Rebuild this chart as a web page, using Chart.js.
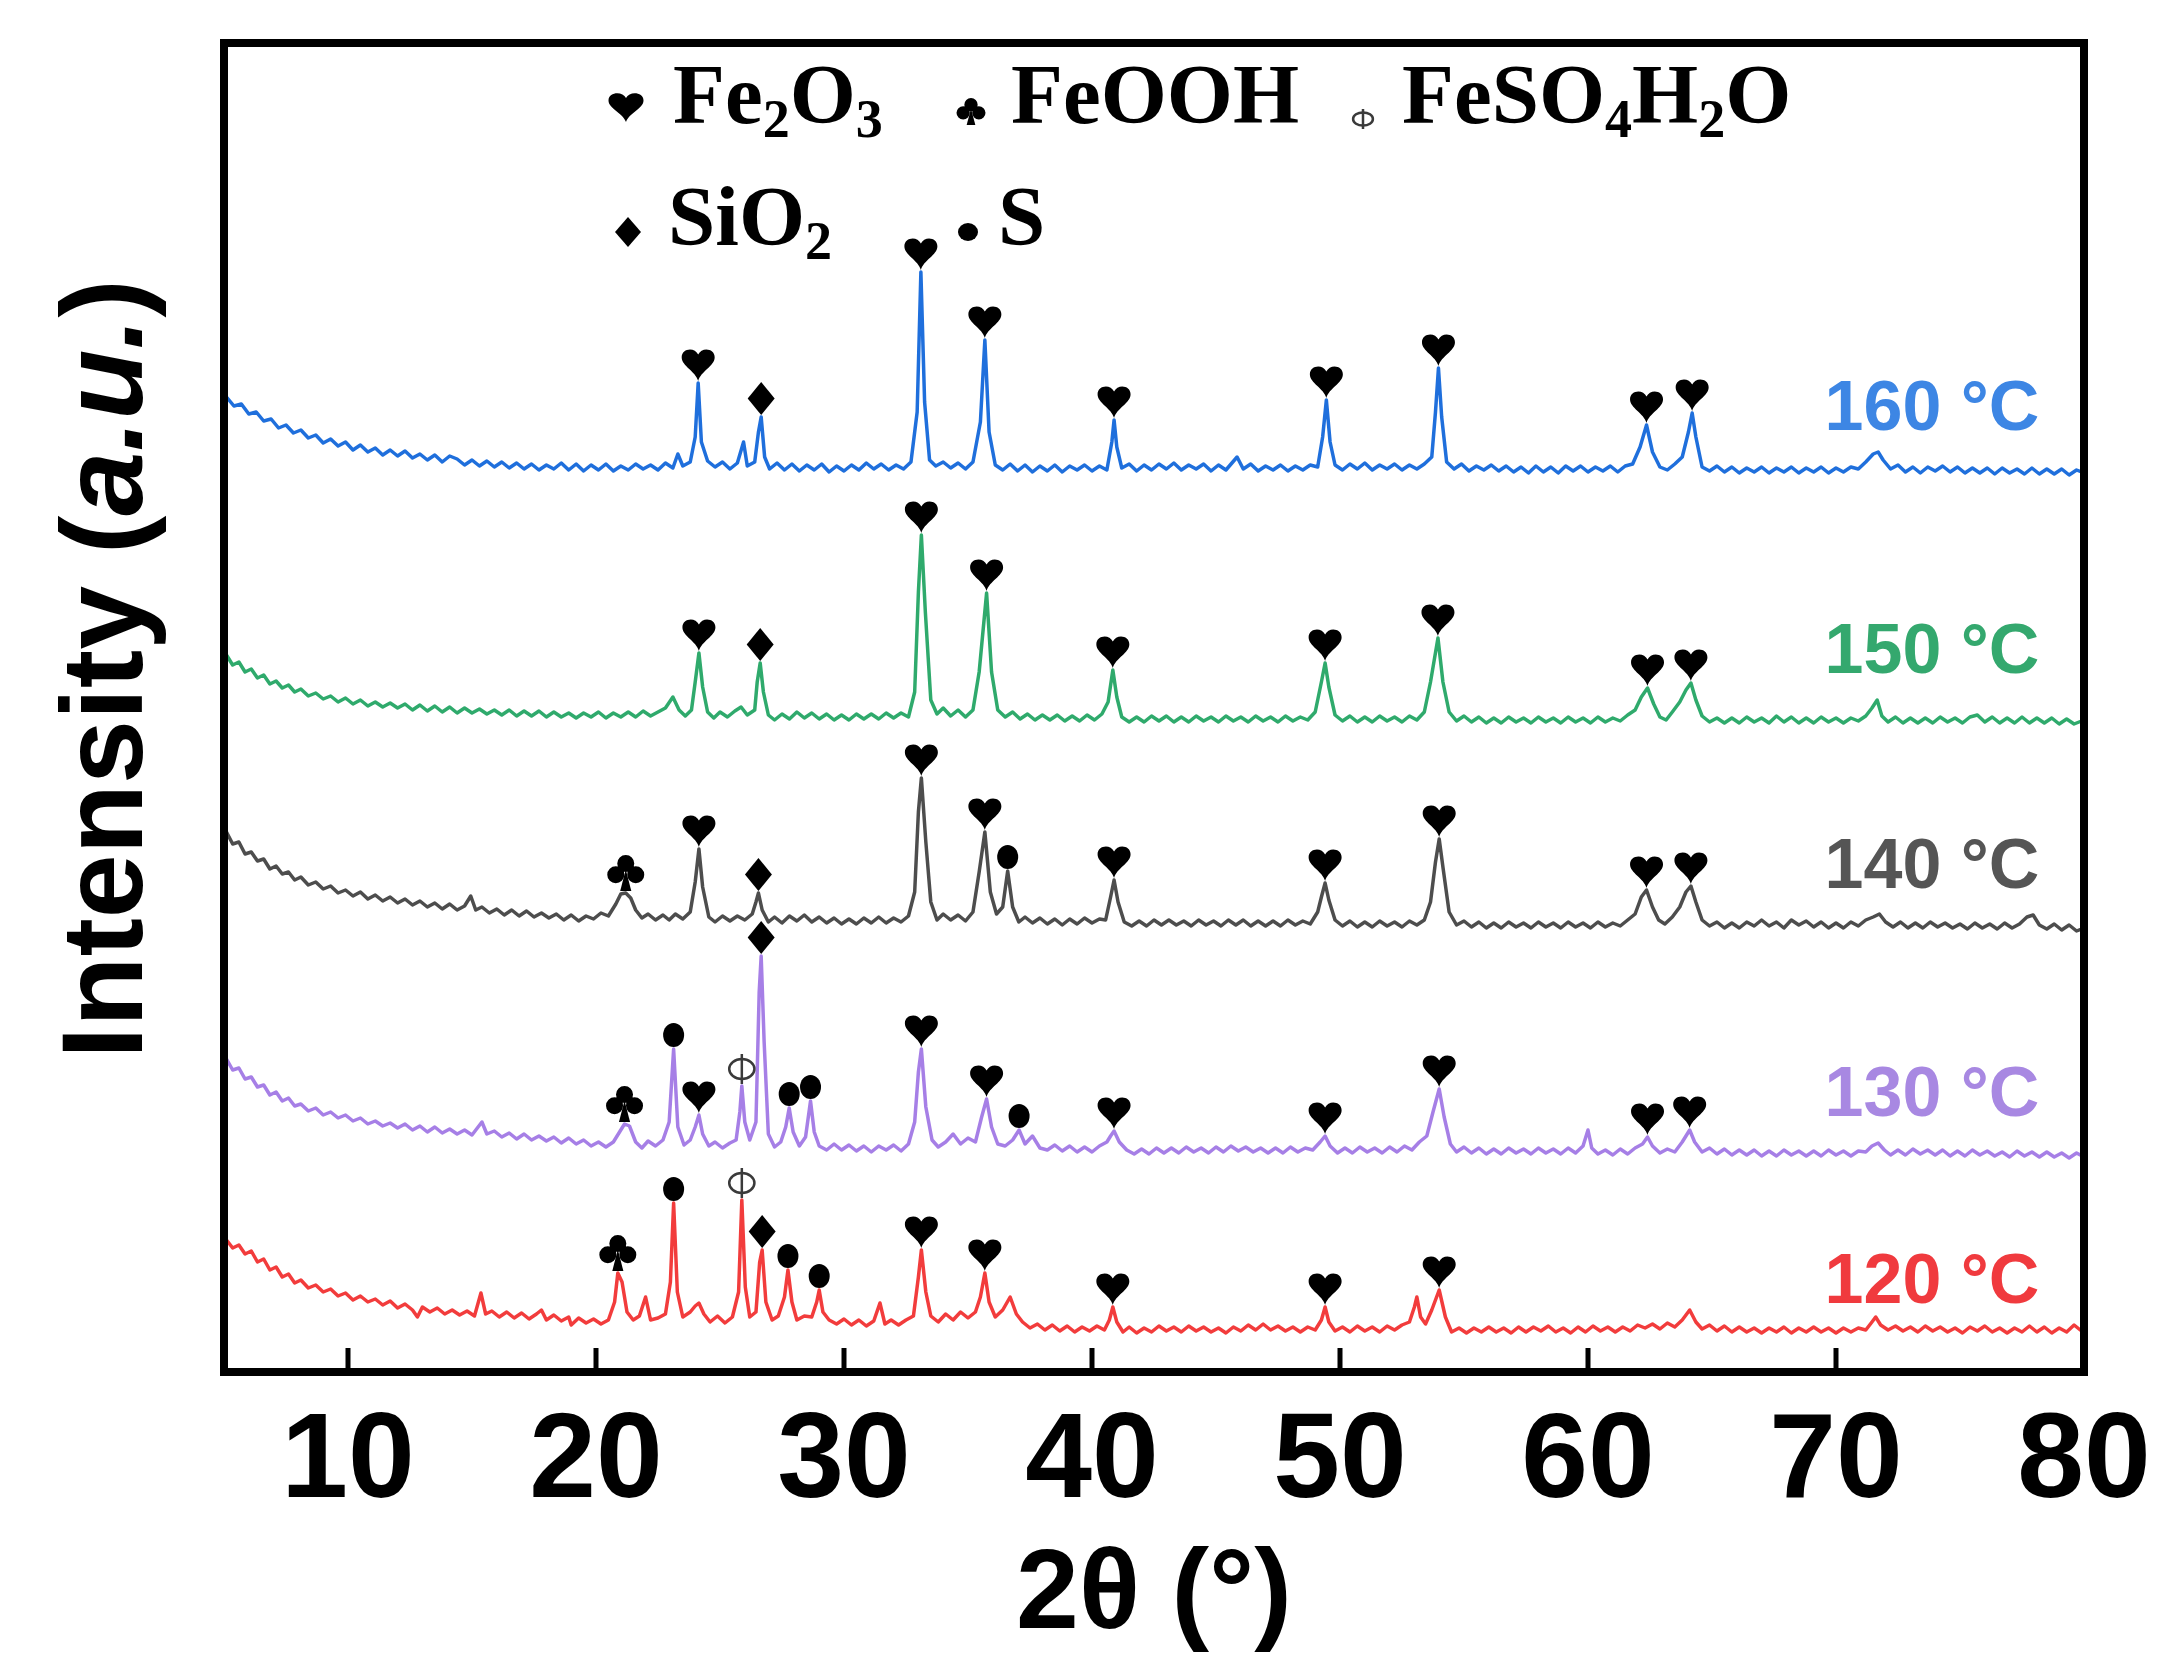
<!DOCTYPE html>
<html><head><meta charset="utf-8">
<script src="https://cdn.jsdelivr.net/npm/chart.js@4.4.0/dist/chart.umd.min.js"></script>
<style>html,body{margin:0;padding:0;background:#fff;} #wrap{width:2164px;height:1675px;position:relative;}</style>
</head><body><div id="wrap"><canvas id="c"></canvas></div>
<script>
// ---------- data (2θ in degrees, intensity in a.u. incl. vertical offset) ----------
const xTicks = [10, 20, 30, 40, 50, 60, 70, 80];
const sampleLabels = ['120 °C', '130 °C', '140 °C', '150 °C', '160 °C'];
const labelLevels = [69, 256, 484, 699, 942];

const pattern120 = [[5.1,132],[5.35,124],[5.6,127],[5.85,118],[6.1,121],[6.35,110],[6.6,113],[6.85,102],[7.1,105],[7.35,95],[7.6,98],[7.85,89],[8.1,92],[8.4,84],[8.7,87],[9.0,80],[9.3,83],[9.6,76],[9.9,79],[10.2,72],[10.5,76],[10.8,70],[11.1,73],[11.4,67],[11.7,71],[12.0,64],[12.3,68],[12.6,62],[12.8,55],[13.0,65],[13.3,60],[13.6,64],[13.9,58],[14.2,62],[14.5,57],[14.8,61],[15.1,56],[15.36,79],[15.55,58],[15.8,61],[16.1,55],[16.4,60],[16.7,54],[17.0,59],[17.3,53],[17.6,58],[17.8,62],[18.0,52],[18.3,57],[18.6,51],[18.9,55],[19.0,47],[19.3,54],[19.6,49],[19.9,53],[20.2,48],[20.5,52],[20.75,70],[20.88,99],[21.05,90],[21.25,60],[21.5,52],[21.75,56],[22.0,75],[22.2,52],[22.5,54],[22.8,58],[23.0,90],[23.13,169],[23.28,80],[23.5,55],[23.8,60],[24.0,66],[24.15,69],[24.35,58],[24.6,50],[24.9,56],[25.2,49],[25.5,55],[25.75,80],[25.88,172],[26.02,85],[26.2,55],[26.45,60],[26.6,110],[26.7,122],[26.85,70],[27.1,52],[27.35,56],[27.6,75],[27.74,102],[27.9,70],[28.1,52],[28.4,56],[28.7,55],[28.9,70],[29.0,82],[29.15,60],[29.4,52],[29.7,48],[30.0,53],[30.3,47],[30.6,52],[30.9,46],[31.2,51],[31.45,69],[31.65,48],[31.9,52],[32.2,47],[32.5,52],[32.8,56],[33.0,95],[33.12,122],[33.3,80],[33.5,56],[33.8,50],[34.1,58],[34.4,52],[34.7,60],[35.0,54],[35.3,60],[35.5,75],[35.68,99],[35.85,70],[36.1,55],[36.4,62],[36.7,75],[36.95,58],[37.2,50],[37.5,44],[37.8,48],[38.1,42],[38.4,47],[38.7,41],[39.0,46],[39.3,40],[39.6,45],[39.9,41],[40.2,46],[40.5,42],[40.7,52],[40.84,65],[41.0,50],[41.25,40],[41.5,45],[41.8,39],[42.1,44],[42.4,40],[42.7,46],[43.0,41],[43.3,45],[43.6,40],[43.9,46],[44.2,41],[44.5,45],[44.8,40],[45.1,44],[45.4,39],[45.7,45],[46.0,41],[46.3,47],[46.6,42],[46.9,48],[47.2,42],[47.5,46],[47.8,41],[48.1,45],[48.4,40],[48.7,45],[49.0,42],[49.25,52],[49.4,65],[49.55,50],[49.8,41],[50.1,45],[50.4,40],[50.7,46],[51.0,41],[51.3,45],[51.6,40],[51.9,46],[52.2,42],[52.5,47],[52.8,50],[53.0,65],[53.1,75],[53.25,55],[53.45,48],[53.7,62],[54.0,82],[54.25,55],[54.5,40],[54.8,44],[55.1,39],[55.4,44],[55.7,40],[56.0,45],[56.3,40],[56.6,44],[56.9,39],[57.2,45],[57.5,40],[57.8,45],[58.1,41],[58.4,46],[58.7,40],[59.0,44],[59.3,39],[59.6,45],[59.9,40],[60.2,46],[60.5,41],[60.8,45],[61.1,40],[61.4,45],[61.7,41],[62.0,47],[62.3,44],[62.6,48],[62.9,43],[63.2,49],[63.5,45],[63.8,52],[64.1,62],[64.35,50],[64.6,43],[64.9,47],[65.2,41],[65.5,46],[65.8,40],[66.1,45],[66.4,40],[66.7,44],[67.0,39],[67.3,44],[67.6,40],[67.9,45],[68.2,39],[68.5,44],[68.8,40],[69.1,45],[69.4,40],[69.7,44],[70.0,39],[70.3,44],[70.6,40],[70.9,44],[71.2,42],[71.45,50],[71.6,55],[71.8,47],[72.1,42],[72.4,46],[72.7,41],[73.0,45],[73.3,40],[73.6,46],[73.9,41],[74.2,45],[74.5,40],[74.8,44],[75.1,39],[75.4,45],[75.7,41],[76.0,46],[76.3,40],[76.6,44],[76.9,39],[77.2,44],[77.5,40],[77.8,46],[78.1,40],[78.4,45],[78.7,39],[79.0,44],[79.3,40],[79.6,47],[79.9,41]];

const pattern130 = [[5.1,313],[5.35,302],[5.6,304],[5.85,293],[6.1,295],[6.35,285],[6.6,287],[6.85,277],[7.1,280],[7.35,271],[7.6,274],[7.85,266],[8.1,268],[8.4,261],[8.7,264],[9.0,257],[9.3,260],[9.6,254],[9.9,257],[10.2,251],[10.5,254],[10.8,248],[11.1,251],[11.4,246],[11.7,249],[12.0,244],[12.3,248],[12.6,242],[12.9,246],[13.2,240],[13.5,245],[13.8,239],[14.1,243],[14.4,238],[14.7,242],[15.0,237],[15.4,250],[15.6,238],[15.9,241],[16.2,235],[16.5,239],[16.8,233],[17.1,238],[17.4,232],[17.7,236],[18.0,231],[18.3,235],[18.6,229],[18.9,234],[19.2,228],[19.5,232],[19.8,226],[20.1,230],[20.4,225],[20.7,230],[20.95,240],[21.15,248],[21.35,246],[21.6,230],[21.85,224],[22.1,231],[22.4,226],[22.7,232],[22.95,250],[23.13,323],[23.3,245],[23.55,227],[23.8,232],[24.0,245],[24.15,257],[24.3,238],[24.55,226],[24.8,230],[25.1,224],[25.4,229],[25.65,232],[25.8,260],[25.88,286],[26.0,250],[26.2,232],[26.45,250],[26.58,380],[26.66,416],[26.78,330],[26.95,238],[27.2,225],[27.45,230],[27.65,245],[27.79,264],[27.95,240],[28.2,226],[28.45,235],[28.65,271],[28.8,240],[29.0,226],[29.3,222],[29.6,228],[29.9,222],[30.2,227],[30.5,221],[30.8,226],[31.1,220],[31.4,226],[31.7,222],[32.0,227],[32.3,221],[32.6,228],[32.85,250],[33.0,300],[33.12,323],[33.3,265],[33.55,232],[33.8,225],[34.1,230],[34.4,238],[34.7,228],[35.0,234],[35.3,230],[35.55,255],[35.75,273],[35.95,245],[36.2,228],[36.5,226],[36.8,232],[37.06,242],[37.3,228],[37.6,236],[37.9,224],[38.2,222],[38.5,227],[38.8,221],[39.1,226],[39.4,220],[39.7,225],[40.0,220],[40.3,226],[40.6,230],[40.75,236],[40.89,241],[41.1,230],[41.4,222],[41.7,218],[42.0,223],[42.3,218],[42.6,224],[42.9,219],[43.2,224],[43.5,219],[43.8,225],[44.1,220],[44.4,224],[44.7,219],[45.0,225],[45.3,220],[45.6,226],[45.9,221],[46.2,225],[46.5,220],[46.8,224],[47.1,219],[47.4,224],[47.7,219],[48.0,225],[48.3,220],[48.6,224],[48.9,222],[49.2,230],[49.4,236],[49.6,226],[49.9,219],[50.2,224],[50.5,219],[50.8,225],[51.1,220],[51.4,224],[51.7,219],[52.0,225],[52.3,220],[52.6,226],[52.9,222],[53.2,230],[53.5,236],[53.75,260],[54.0,283],[54.2,255],[54.45,228],[54.7,220],[55.0,225],[55.3,219],[55.6,224],[55.9,218],[56.2,223],[56.5,218],[56.8,224],[57.1,219],[57.4,223],[57.7,218],[58.0,224],[58.3,219],[58.6,223],[58.9,218],[59.2,224],[59.5,219],[59.8,226],[60.0,242],[60.15,224],[60.4,218],[60.7,222],[61.0,217],[61.3,223],[61.6,218],[61.9,224],[62.2,228],[62.4,235],[62.6,226],[62.9,219],[63.2,223],[63.5,220],[63.8,230],[64.1,242],[64.3,230],[64.6,220],[64.9,224],[65.2,218],[65.5,223],[65.8,217],[66.1,222],[66.4,217],[66.7,222],[67.0,216],[67.3,221],[67.6,216],[67.9,222],[68.2,217],[68.5,221],[68.8,216],[69.1,221],[69.4,216],[69.7,222],[70.0,217],[70.3,221],[70.6,216],[70.9,221],[71.2,220],[71.45,226],[71.7,229],[71.95,222],[72.2,217],[72.5,222],[72.8,217],[73.1,223],[73.4,218],[73.7,222],[74.0,217],[74.3,222],[74.6,216],[74.9,221],[75.2,216],[75.5,222],[75.8,217],[76.1,221],[76.4,216],[76.7,220],[77.0,215],[77.3,221],[77.6,216],[77.9,220],[78.2,215],[78.5,220],[78.8,215],[79.1,219],[79.4,214],[79.7,219],[80.0,215]];

const pattern140 = [[5.1,540],[5.35,528],[5.6,530],[5.85,518],[6.1,520],[6.35,511],[6.6,513],[6.85,503],[7.1,506],[7.35,498],[7.6,500],[7.85,492],[8.1,495],[8.4,487],[8.7,490],[9.0,483],[9.3,486],[9.6,479],[9.9,482],[10.2,476],[10.5,480],[10.8,473],[11.1,477],[11.4,471],[11.7,475],[12.0,469],[12.3,473],[12.6,467],[12.9,471],[13.2,465],[13.5,469],[13.8,463],[14.1,468],[14.4,462],[14.7,466],[14.95,476],[15.15,462],[15.4,465],[15.7,459],[16.0,463],[16.3,457],[16.6,462],[16.9,456],[17.2,461],[17.5,455],[17.8,459],[18.1,454],[18.4,458],[18.7,452],[19.0,457],[19.3,451],[19.6,456],[19.9,453],[20.2,459],[20.5,456],[20.8,468],[21.0,478],[21.2,479],[21.4,474],[21.6,462],[21.85,454],[22.1,458],[22.4,452],[22.7,457],[22.95,452],[23.2,458],[23.5,453],[23.8,460],[24.0,490],[24.15,523],[24.3,485],[24.55,455],[24.8,450],[25.1,456],[25.4,451],[25.7,456],[26.0,452],[26.3,458],[26.45,470],[26.55,479],[26.7,462],[26.95,450],[27.2,455],[27.5,449],[27.8,456],[28.1,451],[28.4,457],[28.7,450],[29.0,455],[29.3,449],[29.6,454],[29.9,448],[30.2,453],[30.5,448],[30.8,454],[31.1,449],[31.4,455],[31.7,449],[32.0,454],[32.3,450],[32.6,456],[32.85,480],[33.0,560],[33.12,594],[33.3,530],[33.5,470],[33.75,452],[34.0,458],[34.3,452],[34.6,457],[34.9,451],[35.2,460],[35.45,500],[35.68,540],[35.9,480],[36.15,458],[36.4,465],[36.6,501],[36.8,465],[37.05,450],[37.3,455],[37.6,449],[37.9,454],[38.2,448],[38.5,453],[38.8,447],[39.1,453],[39.4,448],[39.7,454],[40.0,449],[40.3,453],[40.55,452],[40.75,475],[40.89,492],[41.05,470],[41.3,450],[41.6,446],[41.9,451],[42.2,446],[42.5,452],[42.8,447],[43.1,452],[43.4,447],[43.7,451],[44.0,446],[44.3,452],[44.6,447],[44.9,451],[45.2,446],[45.5,452],[45.8,447],[46.1,452],[46.4,446],[46.7,451],[47.0,446],[47.3,451],[47.6,446],[47.9,452],[48.2,447],[48.5,451],[48.8,448],[49.1,460],[49.25,475],[49.4,489],[49.55,472],[49.8,452],[50.1,446],[50.4,451],[50.7,445],[51.0,450],[51.3,445],[51.6,451],[51.9,446],[52.2,450],[52.5,445],[52.8,451],[53.1,447],[53.4,452],[53.65,470],[53.85,510],[54.0,533],[54.15,505],[54.4,460],[54.7,447],[55.0,451],[55.3,445],[55.6,450],[55.9,444],[56.2,449],[56.5,444],[56.8,450],[57.1,445],[57.4,449],[57.7,444],[58.0,450],[58.3,445],[58.6,449],[58.9,444],[59.2,450],[59.5,445],[59.8,449],[60.1,444],[60.4,450],[60.7,445],[61.0,449],[61.3,446],[61.6,452],[61.9,458],[62.15,475],[62.36,482],[62.6,465],[62.85,452],[63.1,448],[63.4,455],[63.7,465],[63.95,480],[64.15,486],[64.35,470],[64.6,452],[64.9,446],[65.2,450],[65.5,444],[65.8,449],[66.1,444],[66.4,450],[66.7,446],[67.0,452],[67.3,446],[67.6,450],[67.9,444],[68.2,452],[68.5,447],[68.8,451],[69.1,445],[69.4,450],[69.7,444],[70.0,449],[70.3,444],[70.6,450],[70.9,446],[71.2,452],[71.5,455],[71.75,458],[72.0,450],[72.3,445],[72.6,450],[72.9,444],[73.2,449],[73.5,444],[73.8,450],[74.1,445],[74.4,449],[74.7,444],[75.0,448],[75.3,443],[75.6,449],[75.9,444],[76.2,448],[76.5,443],[76.8,449],[77.1,444],[77.4,448],[77.7,455],[77.95,457],[78.2,447],[78.5,443],[78.8,448],[79.1,442],[79.4,447],[79.7,441],[80.0,444]];

const pattern150 = [[5.1,717],[5.35,707],[5.6,710],[5.85,700],[6.1,703],[6.35,694],[6.6,697],[6.85,688],[7.1,691],[7.35,684],[7.6,687],[7.85,680],[8.1,683],[8.4,676],[8.7,679],[9.0,673],[9.3,676],[9.6,670],[9.9,674],[10.2,668],[10.5,672],[10.8,666],[11.1,670],[11.4,665],[11.7,669],[12.0,664],[12.3,668],[12.6,662],[12.9,667],[13.2,661],[13.5,666],[13.8,660],[14.1,665],[14.4,659],[14.7,664],[15.0,659],[15.3,663],[15.6,658],[15.9,662],[16.2,657],[16.5,662],[16.8,656],[17.1,661],[17.4,656],[17.7,661],[18.0,655],[18.3,660],[18.6,655],[18.9,659],[19.2,654],[19.5,659],[19.8,655],[20.1,660],[20.4,654],[20.7,659],[21.0,655],[21.3,660],[21.6,655],[21.9,661],[22.2,656],[22.5,660],[22.8,664],[23.1,675],[23.35,662],[23.6,656],[23.85,662],[24.0,690],[24.15,719],[24.3,685],[24.5,660],[24.75,654],[25.0,660],[25.3,655],[25.6,661],[25.85,665],[26.1,657],[26.4,662],[26.5,690],[26.62,709],[26.75,680],[26.95,657],[27.2,652],[27.5,658],[27.8,653],[28.1,660],[28.4,654],[28.7,659],[29.0,653],[29.3,658],[29.6,652],[29.9,657],[30.2,652],[30.5,658],[30.8,653],[31.1,658],[31.4,653],[31.7,659],[32.0,654],[32.3,659],[32.6,655],[32.85,680],[33.0,780],[33.12,837],[33.28,760],[33.5,672],[33.75,658],[34.0,664],[34.3,656],[34.6,662],[34.9,655],[35.2,662],[35.45,700],[35.75,779],[35.95,700],[36.2,662],[36.5,655],[36.8,660],[37.1,653],[37.4,658],[37.7,652],[38.0,657],[38.3,652],[38.6,657],[38.9,651],[39.2,656],[39.5,651],[39.8,657],[40.1,652],[40.4,658],[40.65,670],[40.84,702],[41.0,675],[41.2,655],[41.5,650],[41.8,655],[42.1,650],[42.4,656],[42.7,651],[43.0,656],[43.3,650],[43.6,655],[43.9,650],[44.2,656],[44.5,651],[44.8,655],[45.1,650],[45.4,656],[45.7,651],[46.0,655],[46.3,650],[46.6,656],[46.9,651],[47.2,655],[47.5,650],[47.8,656],[48.1,651],[48.4,655],[48.7,652],[49.0,660],[49.25,690],[49.4,709],[49.55,685],[49.8,657],[50.1,651],[50.4,656],[50.7,650],[51.0,655],[51.3,650],[51.6,656],[51.9,651],[52.2,655],[52.5,650],[52.8,656],[53.1,652],[53.4,660],[53.65,690],[53.95,734],[54.15,690],[54.4,660],[54.7,651],[55.0,656],[55.3,650],[55.6,655],[55.9,649],[56.2,654],[56.5,649],[56.8,655],[57.1,650],[57.4,654],[57.7,649],[58.0,655],[58.3,650],[58.6,654],[58.9,649],[59.2,655],[59.5,650],[59.8,654],[60.1,649],[60.4,655],[60.7,650],[61.0,654],[61.3,651],[61.6,657],[61.9,662],[62.15,675],[62.4,684],[62.65,668],[62.9,655],[63.15,652],[63.4,660],[63.7,670],[63.95,682],[64.15,689],[64.35,672],[64.6,656],[64.9,650],[65.2,654],[65.5,649],[65.8,654],[66.1,649],[66.4,655],[66.7,650],[67.0,654],[67.3,649],[67.6,656],[67.9,650],[68.2,655],[68.5,649],[68.8,654],[69.1,649],[69.4,655],[69.7,650],[70.0,654],[70.3,649],[70.6,654],[70.9,651],[71.2,656],[71.45,664],[71.66,672],[71.85,656],[72.1,650],[72.4,655],[72.7,649],[73.0,654],[73.3,649],[73.6,654],[73.9,649],[74.2,655],[74.5,650],[74.8,654],[75.1,649],[75.4,655],[75.7,657],[76.0,650],[76.3,655],[76.6,649],[76.9,654],[77.2,649],[77.5,655],[77.8,649],[78.1,654],[78.4,649],[78.7,654],[79.0,648],[79.3,653],[79.6,648],[79.9,651]];

const pattern160 = [[5.1,975],[5.4,966],[5.7,968],[6.0,958],[6.3,960],[6.6,951],[6.9,953],[7.2,944],[7.5,947],[7.8,939],[8.1,942],[8.4,934],[8.7,937],[9.0,929],[9.3,933],[9.6,926],[9.9,930],[10.2,922],[10.5,927],[10.8,920],[11.1,924],[11.4,917],[11.7,922],[12.0,916],[12.3,921],[12.6,914],[12.9,918],[13.2,912],[13.5,917],[13.8,910],[14.1,916],[14.4,913],[14.7,907],[15.0,912],[15.3,906],[15.6,911],[15.9,905],[16.2,910],[16.5,904],[16.8,909],[17.1,903],[17.4,908],[17.7,902],[18.0,907],[18.3,903],[18.6,909],[18.9,902],[19.2,908],[19.5,901],[19.8,907],[20.1,902],[20.4,908],[20.7,901],[21.0,906],[21.3,902],[21.6,908],[21.9,903],[22.2,907],[22.5,902],[22.8,909],[23.1,904],[23.3,918],[23.5,906],[23.8,910],[24.0,935],[24.12,989],[24.25,930],[24.5,911],[24.8,905],[25.1,910],[25.4,903],[25.7,909],[25.95,930],[26.1,906],[26.4,910],[26.55,940],[26.66,955],[26.8,915],[27.0,903],[27.3,909],[27.6,902],[27.9,908],[28.2,901],[28.5,907],[28.8,902],[29.1,908],[29.4,900],[29.7,906],[30.0,901],[30.3,907],[30.6,902],[30.9,909],[31.2,903],[31.5,908],[31.8,902],[32.1,907],[32.4,903],[32.7,910],[32.95,960],[33.1,1100],[33.25,970],[33.45,912],[33.7,906],[34.0,910],[34.3,904],[34.6,909],[34.9,903],[35.2,910],[35.5,950],[35.68,1032],[35.85,940],[36.1,907],[36.4,902],[36.7,908],[37.0,901],[37.3,907],[37.6,900],[37.9,906],[38.2,901],[38.5,907],[38.8,900],[39.1,906],[39.4,902],[39.7,907],[40.0,901],[40.3,906],[40.6,902],[40.8,930],[40.89,952],[41.0,925],[41.2,904],[41.5,908],[41.8,901],[42.1,907],[42.4,902],[42.7,908],[43.0,903],[43.3,909],[43.6,902],[43.9,907],[44.2,903],[44.5,908],[44.8,901],[45.1,907],[45.4,902],[45.85,915],[46.1,903],[46.4,908],[46.7,901],[47.0,906],[47.3,902],[47.6,907],[47.9,901],[48.2,906],[48.5,902],[48.8,907],[49.1,905],[49.3,935],[49.45,972],[49.6,930],[49.8,907],[50.1,902],[50.4,908],[50.7,903],[51.0,909],[51.3,902],[51.6,907],[51.9,903],[52.2,908],[52.5,902],[52.8,907],[53.1,903],[53.4,908],[53.7,915],[53.85,960],[53.97,1004],[54.1,955],[54.3,910],[54.6,903],[54.9,908],[55.2,901],[55.5,906],[55.8,902],[56.1,907],[56.4,901],[56.7,906],[57.0,900],[57.3,905],[57.6,899],[57.9,906],[58.2,900],[58.5,905],[58.8,899],[59.1,906],[59.4,901],[59.7,906],[60.0,900],[60.3,905],[60.6,901],[60.9,906],[61.2,900],[61.5,906],[61.8,908],[62.1,925],[62.36,947],[62.6,920],[62.9,905],[63.2,902],[63.5,908],[63.8,915],[64.05,940],[64.2,959],[64.35,935],[64.6,905],[64.9,901],[65.2,906],[65.5,900],[65.8,905],[66.1,899],[66.4,904],[66.7,900],[67.0,905],[67.3,899],[67.6,904],[67.9,900],[68.2,905],[68.5,899],[68.8,904],[69.1,900],[69.4,905],[69.7,899],[70.0,904],[70.3,900],[70.6,905],[70.9,903],[71.2,910],[71.5,918],[71.7,920],[71.9,912],[72.2,903],[72.5,907],[72.8,900],[73.1,905],[73.4,899],[73.7,905],[74.0,901],[74.3,906],[74.6,900],[74.9,905],[75.2,899],[75.5,904],[75.8,899],[76.1,904],[76.4,898],[76.7,904],[77.0,899],[77.3,903],[77.6,898],[77.9,904],[78.2,898],[78.5,903],[78.8,898],[79.1,903],[79.4,897],[79.7,902],[80.0,899]];

// phase marks: [phase, 2θ]
const marks120 = [['club',20.88],['dot',23.13],['phi',25.88],['diamond',26.7],['dot',27.74],['dot',29.0],['heart',33.12],['heart',35.68],['heart',40.84],['heart',49.4],['heart',54.0]];
const marks130 = [['club',21.25],['dot',23.13],['heart',24.15],['phi',25.88],['diamond',26.66],['dot',27.79],['dot',28.65],['heart',33.12],['heart',35.75],['dot',37.06],['heart',40.89],['heart',49.4],['heart',54.0],['heart',62.4],['heart',64.1]];
const marks140 = [['club',21.2],['heart',24.15],['diamond',26.55],['heart',33.12],['heart',35.68],['dot',36.6],['heart',40.89],['heart',49.4],['heart',54.0],['heart',62.36],['heart',64.15]];
const marks150 = [['heart',24.15],['diamond',26.62],['heart',33.12],['heart',35.75],['heart',40.84],['heart',49.4],['heart',53.95],['heart',62.4],['heart',64.15]];
const marks160 = [['heart',24.12],['diamond',26.66],['heart',33.1],['heart',35.68],['heart',40.89],['heart',49.45],['heart',53.97],['heart',62.36],['heart',64.2]];

const patterns = [pattern120, pattern130, pattern140, pattern150, pattern160];
const marks = [marks120, marks130, marks140, marks150, marks160];

// ---------- styles ----------
const lineColors = ['#f23c3c', '#a67fe6', '#4d4d4d', '#2faa6c', '#1f6fdc'];
const labelColors = ['#f03a3e', '#a888e2', '#555555', '#34a86e', '#3d86e4'];
const SANS = '"Liberation Sans", Arial, sans-serif';
const SERIF = '"Liberation Serif", "Times New Roman", serif';
const markSize = {heart:[33,33], diamond:[27,33], club:[37,36], dot:[21,24], phi:[28,30]};

function drawMark(ctx, type, cx, by, w, h) {
  ctx.fillStyle = '#000';
  ctx.beginPath();
  if (type === 'heart') {
    ctx.moveTo(cx, by);
    ctx.bezierCurveTo(cx - w*0.08, by - h*0.3, cx - w*0.5, by - h*0.45, cx - w*0.5, by - h*0.72);
    ctx.bezierCurveTo(cx - w*0.5, by - h*1.0, cx - w*0.1, by - h*1.04, cx, by - h*0.8);
    ctx.bezierCurveTo(cx + w*0.1, by - h*1.04, cx + w*0.5, by - h*1.0, cx + w*0.5, by - h*0.72);
    ctx.bezierCurveTo(cx + w*0.5, by - h*0.45, cx + w*0.08, by - h*0.3, cx, by);
    ctx.closePath(); ctx.fill();
  } else if (type === 'diamond') {
    ctx.moveTo(cx, by); ctx.lineTo(cx - w/2, by - h/2); ctx.lineTo(cx, by - h); ctx.lineTo(cx + w/2, by - h/2);
    ctx.closePath(); ctx.fill();
  } else if (type === 'club') {
    const r = w*0.23;
    ctx.arc(cx, by - h + r, r, 0, Math.PI*2); ctx.closePath();
    ctx.moveTo(cx - w/2 + 2*r, by - h*0.45);
    ctx.arc(cx - w/2 + r, by - h*0.45, r, 0, Math.PI*2); ctx.closePath();
    ctx.moveTo(cx + w/2, by - h*0.45);
    ctx.arc(cx + w/2 - r, by - h*0.45, r, 0, Math.PI*2); ctx.closePath();
    ctx.fill();
    ctx.beginPath();
    ctx.moveTo(cx, by - h*0.6); ctx.lineTo(cx - w*0.15, by); ctx.lineTo(cx + w*0.15, by); ctx.closePath(); ctx.fill();
  } else if (type === 'dot') {
    ctx.ellipse(cx, by - h/2, w/2, h/2, 0, 0, Math.PI*2); ctx.fill();
  } else if (type === 'phi') {
    ctx.strokeStyle = '#3a3a3a'; ctx.lineWidth = 2.5;
    ctx.ellipse(cx, by - h*0.5, w*0.45, h*0.33, 0, 0, Math.PI*2); ctx.stroke();
    ctx.beginPath(); ctx.moveTo(cx, by); ctx.lineTo(cx, by - h); ctx.stroke();
  }
}

function drawChem(ctx, x, y, parts, size) {
  ctx.textAlign = 'left'; ctx.textBaseline = 'alphabetic'; ctx.fillStyle = '#000';
  parts.forEach(([t, sub]) => {
    ctx.font = 'bold ' + (sub ? Math.round(size*0.64) : size) + 'px ' + SERIF;
    ctx.fillText(t, x, sub ? y + size*0.16 : y);
    x += ctx.measureText(t).width;
  });
}

const xrdPlugin = {
  id: 'xrd',
  afterDraw(chart) {
    const {ctx, chartArea: a} = chart;
    const sx = chart.scales.x, sy = chart.scales.y;
    ctx.save();
    // phase marks on peaks
    patterns.forEach((pat, i) => {
      marks[i].forEach(([type, pos]) => {
        let best = null;
        pat.forEach(p => { if (Math.abs(p[0] - pos) <= 0.15 && (!best || p[1] > best[1])) best = p; });
        if (!best) return;
        const [w, h] = markSize[type];
        drawMark(ctx, type, sx.getPixelForValue(best[0]), sy.getPixelForValue(best[1]) - 2, w, h);
      });
    });
    // sample labels
    ctx.font = 'bold 70px ' + SANS; ctx.textAlign = 'right'; ctx.textBaseline = 'alphabetic';
    sampleLabels.forEach((t, i) => {
      ctx.fillStyle = labelColors[i];
      ctx.fillText(t, sx.getPixelForValue(78.2), sy.getPixelForValue(labelLevels[i]));
    });
    // frame
    ctx.strokeStyle = '#000'; ctx.lineWidth = 8;
    ctx.strokeRect(a.left, a.top, a.right - a.left, a.bottom - a.top);
    // ticks (inward)
    ctx.lineWidth = 5; ctx.beginPath();
    xTicks.forEach(v => {
      if (v >= 80) return;
      const px = Math.round(sx.getPixelForValue(v));
      ctx.moveTo(px, a.bottom - 3); ctx.lineTo(px, a.bottom - 24);
    });
    ctx.stroke();
    // tick labels
    ctx.fillStyle = '#000'; ctx.font = 'bold 120px ' + SANS; ctx.textAlign = 'center';
    xTicks.forEach(v => ctx.fillText(String(v), sx.getPixelForValue(v), a.bottom + 125));
    // x title
    ctx.font = 'bold 113px ' + SANS;
    ctx.fillText('2θ (°)', (a.left + a.right) / 2, a.bottom + 256);
    // y title
    const yParts = [['Intensity (', 'bold 115px ' + SANS], ['a.u.', 'italic bold 115px ' + SANS], [')', 'bold 115px ' + SANS]];
    let total = 0;
    yParts.forEach(([t, f]) => { ctx.font = f; total += ctx.measureText(t).width; });
    ctx.save();
    ctx.translate(142, 669); ctx.rotate(-Math.PI / 2);
    ctx.textAlign = 'left';
    let xx = -total / 2;
    yParts.forEach(([t, f]) => { ctx.font = f; ctx.fillText(t, xx, 0); xx += ctx.measureText(t).width; });
    ctx.restore();
    // phase legend
    drawMark(ctx, 'heart', 626, 122, 35, 30);
    drawChem(ctx, 673, 123, [['Fe',0],['2',1],['O',0],['3',1]], 85);
    drawMark(ctx, 'club', 971, 125, 29, 27);
    drawChem(ctx, 1011, 123, [['FeOOH',0]], 85);
    drawMark(ctx, 'phi', 1363, 129, 22, 20);
    drawChem(ctx, 1402, 123, [['FeSO',0],['4',1],['H',0],['2',1],['O',0]], 85);
    drawMark(ctx, 'diamond', 628, 247, 26, 30);
    drawChem(ctx, 668, 245, [['SiO',0],['2',1]], 85);
    drawMark(ctx, 'dot', 968, 241, 20, 18);
    drawChem(ctx, 998, 245, [['S',0]], 85);
    ctx.restore();
  }
};

new Chart(document.getElementById('c'), {
  type: 'line',
  data: {
    datasets: patterns.map((p, i) => ({
      label: sampleLabels[i],
      data: p.map(q => ({x: q[0], y: q[1]})),
      borderColor: lineColors[i],
      borderWidth: 3.5,
      pointRadius: 0,
      tension: 0,
      fill: false,
      borderJoinStyle: 'round'
    }))
  },
  options: {
    responsive: true, maintainAspectRatio: false, animation: false, devicePixelRatio: 1,
    events: [],
    layout: {padding: {left: 224, right: 80, top: 43, bottom: 303}},
    scales: {
      x: {type: 'linear', min: 5, max: 80, display: false},
      y: {type: 'linear', min: 0, max: 1329, display: false}
    },
    plugins: {legend: {display: false}, tooltip: {enabled: false}}
  },
  plugins: [xrdPlugin]
});
</script></body></html>
